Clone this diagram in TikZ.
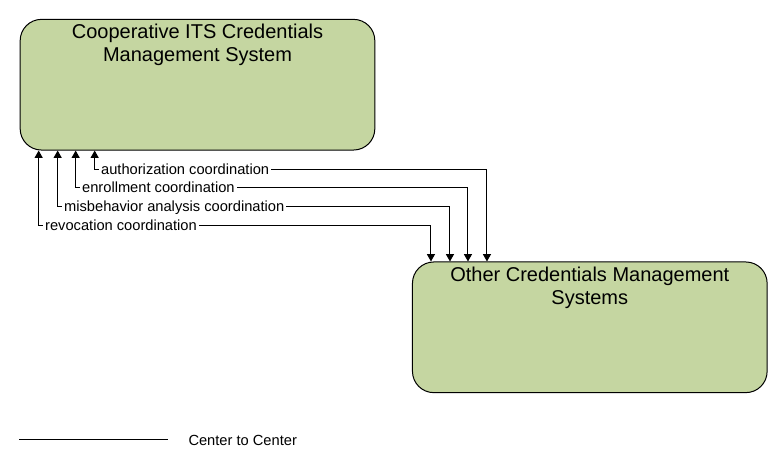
\documentclass[tikz,border=0pt]{standalone}
\usepackage{fontspec}
\setmainfont{Liberation Sans}
\usetikzlibrary{arrows.meta}
\definecolor{elemgreen}{RGB}{197,214,161}

\begin{document}
\begin{tikzpicture}[x=0.75pt,y=-0.75pt,line width=0.75pt,
              element/.style={draw=black,fill=elemgreen,rounded corners=16pt,
                minimum width=266pt,minimum height=98pt,inner sep=0pt},
              elemtitle/.style={anchor=north,inner sep=3.5pt,align=center,
                font=\fontsize{15}{17.25}\selectfont},
              flow/.style={{Triangle[width=6pt,length=5.5pt]}-{Triangle[width=6pt,length=5.5pt]}},
              flowlabel/.style={fill=white,anchor=base west,inner sep=1.5pt,
                font=\fontsize{11}{13}\selectfont}]
  \useasboundingbox (0,0) rectangle (783,468);
  \node[element,label={[elemtitle,name=ccmstitle]north:{Cooperative ITS Credentials\\Management System}}]
    (ccms) at (197.5,84.7) {};
  \node[element,label={[elemtitle,name=ocmstitle]north:{Other Credentials Management\\Systems}}]
    (ocms) at (589.8,327.3) {};
  % flows, innermost first
  \foreach \dx/\y/\txt [count=\i] in {75/169/authorization coordination,
                                      56/187/enrollment coordination,
                                      38/206/misbehavior analysis coordination,
                                      19/225/revocation coordination}
  {
    \draw[flow] ([shift={(\dx,0)}]ccms.south west) coordinate (s\i)
      -- (s\i |- 0,\y) coordinate (k\i)
      -| ([shift={(\dx,0)}]ocms.north west);
    \node[flowlabel] (fl\i) at ([shift={(4,5.5)}]k\i) {\txt};
  }
  % legend
  \coordinate (lgA) at (19,439);
  \coordinate (lgB) at (168,439);
  \draw (lgA) -- (lgB);
  \node[anchor=base west,inner sep=0pt,font=\fontsize{11}{13}\selectfont] (lgtext) at (188,445) {Center to Center};
\end{tikzpicture}
\end{document}
